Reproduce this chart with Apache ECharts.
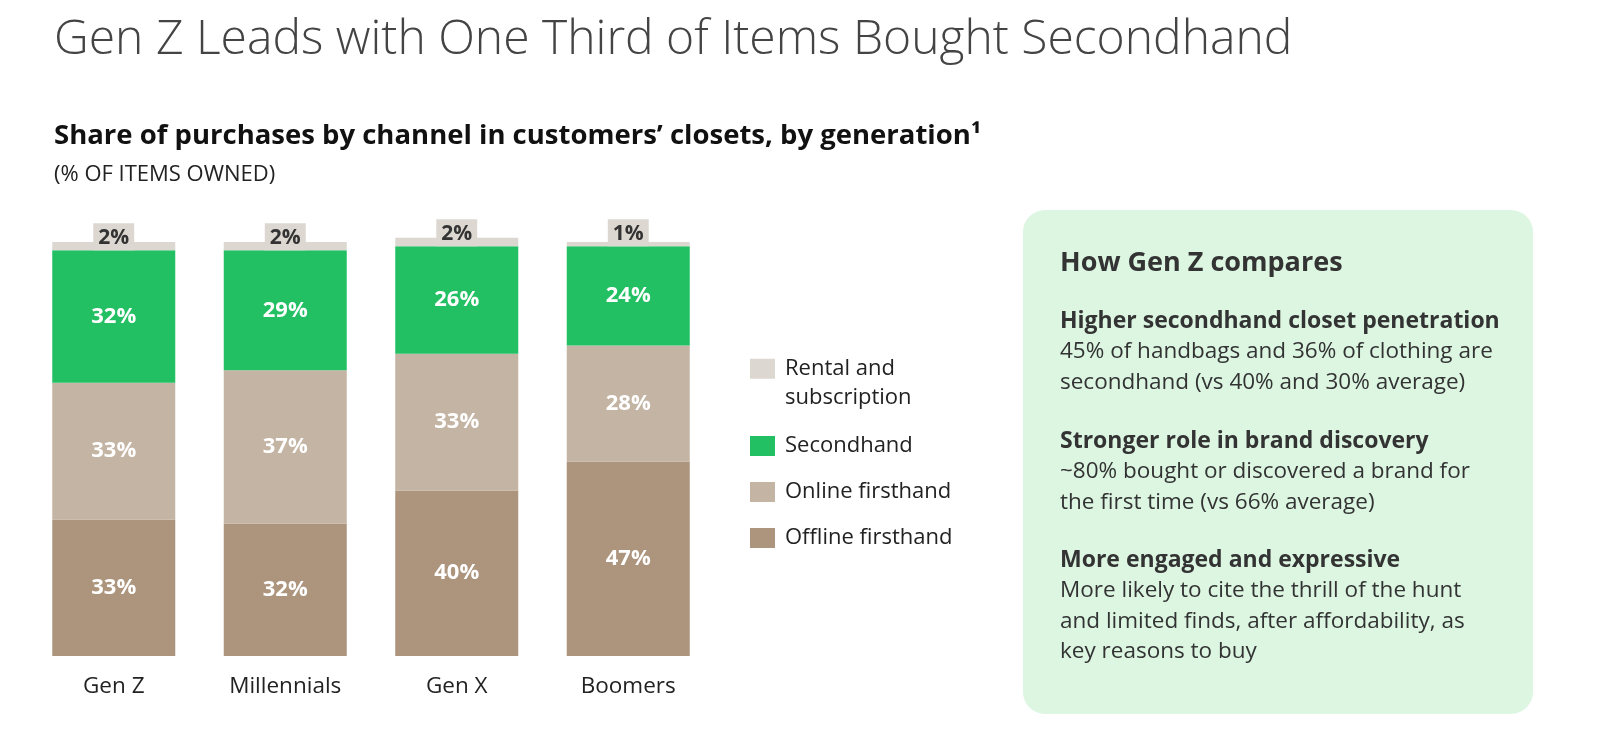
<!DOCTYPE html>
<html>
<head>
<meta charset="utf-8">
<script src="https://cdn.jsdelivr.net/npm/echarts@6/dist/echarts.min.js"></script>
<style>
  html, body { margin: 0; padding: 0; background: #fff; }
  #main { width: 1609px; height: 748px; }
</style>
</head>
<body>
<div id="main"></div>
<script>
// data
var generations = ['Gen Z', 'Millennials', 'Gen X', 'Boomers'];
var offlineFirsthand = [33, 32, 40, 47];
var onlineFirsthand = [33, 37, 33, 28];
var secondhand = [32, 29, 26, 24];
var rental = [2, 2, 2, 1];

var FONT = 'Open Sans';

var chartDom = document.getElementById('main');
var myChart = echarts.init(chartDom);

function innerLabel() {
  return {
    show: true,
    position: 'inside',
    formatter: '{c}%',
    color: '#fff',
    fontFamily: FONT,
    fontWeight: 'bold',
    fontSize: 22
  };
}

// rich styles for the side box
var boxRich = {
  h: { fontFamily: FONT, fontWeight: 'bold', fontSize: 23, fill: '#333', lineHeight: 30.5 },
  b: { fontFamily: FONT, fontSize: 22.5, fill: '#333', lineHeight: 30.5 }
};

var option = {
  backgroundColor: '#fff',
  animation: false,
  title: [
    {
      text: 'Gen Z Leads with One Third of Items Bought Secondhand',
      left: 54, top: 16, padding: 0,
      textStyle: { fontFamily: FONT, fontWeight: 300, fontSize: 48, color: '#444' }
    },
    {
      text: 'Share of purchases by channel in customers\u2019 closets, by generation\u00b9',
      left: 54, top: 122, padding: 0,
      textStyle: { fontFamily: FONT, fontWeight: 'bold', fontSize: 27.5, color: '#111' }
    },
    {
      text: '(% OF ITEMS OWNED)',
      left: 54, top: 164, padding: 0,
      textStyle: { fontFamily: FONT, fontWeight: 'normal', fontSize: 22, color: '#222' }
    }
  ],
  legend: [
    {
      data: ['Rental and\nsubscription'],
      left: 750, top: 326, padding: 0,
      itemWidth: 25, itemHeight: 20,
      icon: 'rect',
      selectedMode: false,
      formatter: function(name) { return '\n' + name; },
      textStyle: { fontFamily: FONT, fontSize: 22, color: '#222', lineHeight: 28.5, padding: [0, 0, 0, 5] }
    },
    {
      data: ['Secondhand', 'Online firsthand', 'Offline firsthand'],
      orient: 'vertical',
      left: 750, top: 433, padding: 0,
      itemWidth: 25, itemHeight: 20, itemGap: 20,
      icon: 'rect',
      selectedMode: false,
      textStyle: { fontFamily: FONT, fontSize: 22, color: '#222', lineHeight: 26, padding: [0, 0, 0, 5] }
    }
  ],
  grid: { left: 28, width: 686, top: 242, height: 414, containLabel: false },
  xAxis: {
    type: 'category',
    data: generations,
    axisLine: { show: false },
    axisTick: { show: false },
    axisLabel: { fontFamily: FONT, fontSize: 22.5, color: '#222', margin: 19 }
  },
  yAxis: {
    type: 'value',
    min: 0, max: 100,
    show: false,
    splitLine: { show: false }
  },
  graphic: [
    {
      type: 'rect',
      shape: { x: 1023, y: 210, width: 510, height: 504, r: 22 },
      style: { fill: '#dcf6e2' },
      z: -1
    },
    {
      type: 'text',
      x: 1060, y: 263,
      style: {
        text: 'How Gen Z compares',
        fontFamily: FONT, fontWeight: 'bold', fontSize: 27, fill: '#333',
        verticalAlign: 'middle'
      }
    },
    {
      type: 'text',
      x: 1060, y: 306,
      style: {
        text: '{h|Higher secondhand closet penetration}\n{b|45% of handbags and 36% of clothing are}\n{b|secondhand (vs 40% and 30% average)}',
        verticalAlign: 'top',
        rich: boxRich
      }
    },
    {
      type: 'text',
      x: 1060, y: 426,
      style: {
        text: '{h|Stronger role in brand discovery}\n{b|~80% bought or discovered a brand for}\n{b|the first time (vs 66% average)}',
        verticalAlign: 'top',
        rich: boxRich
      }
    },
    {
      type: 'text',
      x: 1060, y: 545,
      style: {
        text: '{h|More engaged and expressive}\n{b|More likely to cite the thrill of the hunt}\n{b|and limited finds, after affordability, as}\n{b|key reasons to buy}',
        verticalAlign: 'top',
        rich: boxRich
      }
    }
  ],
  series: [
    {
      name: 'Offline firsthand',
      type: 'bar', stack: 'total', barWidth: 123, clip: false,
      itemStyle: { color: '#ad947d' },
      label: innerLabel(),
      data: offlineFirsthand
    },
    {
      name: 'Online firsthand',
      type: 'bar', stack: 'total', barWidth: 123, clip: false,
      itemStyle: { color: '#c4b4a3' },
      label: innerLabel(),
      data: onlineFirsthand
    },
    {
      name: 'Secondhand',
      type: 'bar', stack: 'total', barWidth: 123, clip: false,
      itemStyle: { color: '#22c063' },
      label: innerLabel(),
      data: secondhand
    },
    {
      name: 'Rental and\nsubscription',
      type: 'bar', stack: 'total', barWidth: 123, clip: false,
      itemStyle: { color: '#dcd7d1' },
      label: {
        show: true,
        position: 'insideBottom',
        distance: 0,
        formatter: '{c}%',
        color: '#333',
        fontFamily: FONT,
        fontWeight: 'bold',
        fontSize: 21,
        lineHeight: 21,
        backgroundColor: '#dcd7d1',
        padding: [4, 5, 2, 5]
      },
      data: rental
    }
  ]
};

option && myChart.setOption(option);
</script>
</body>
</html>
